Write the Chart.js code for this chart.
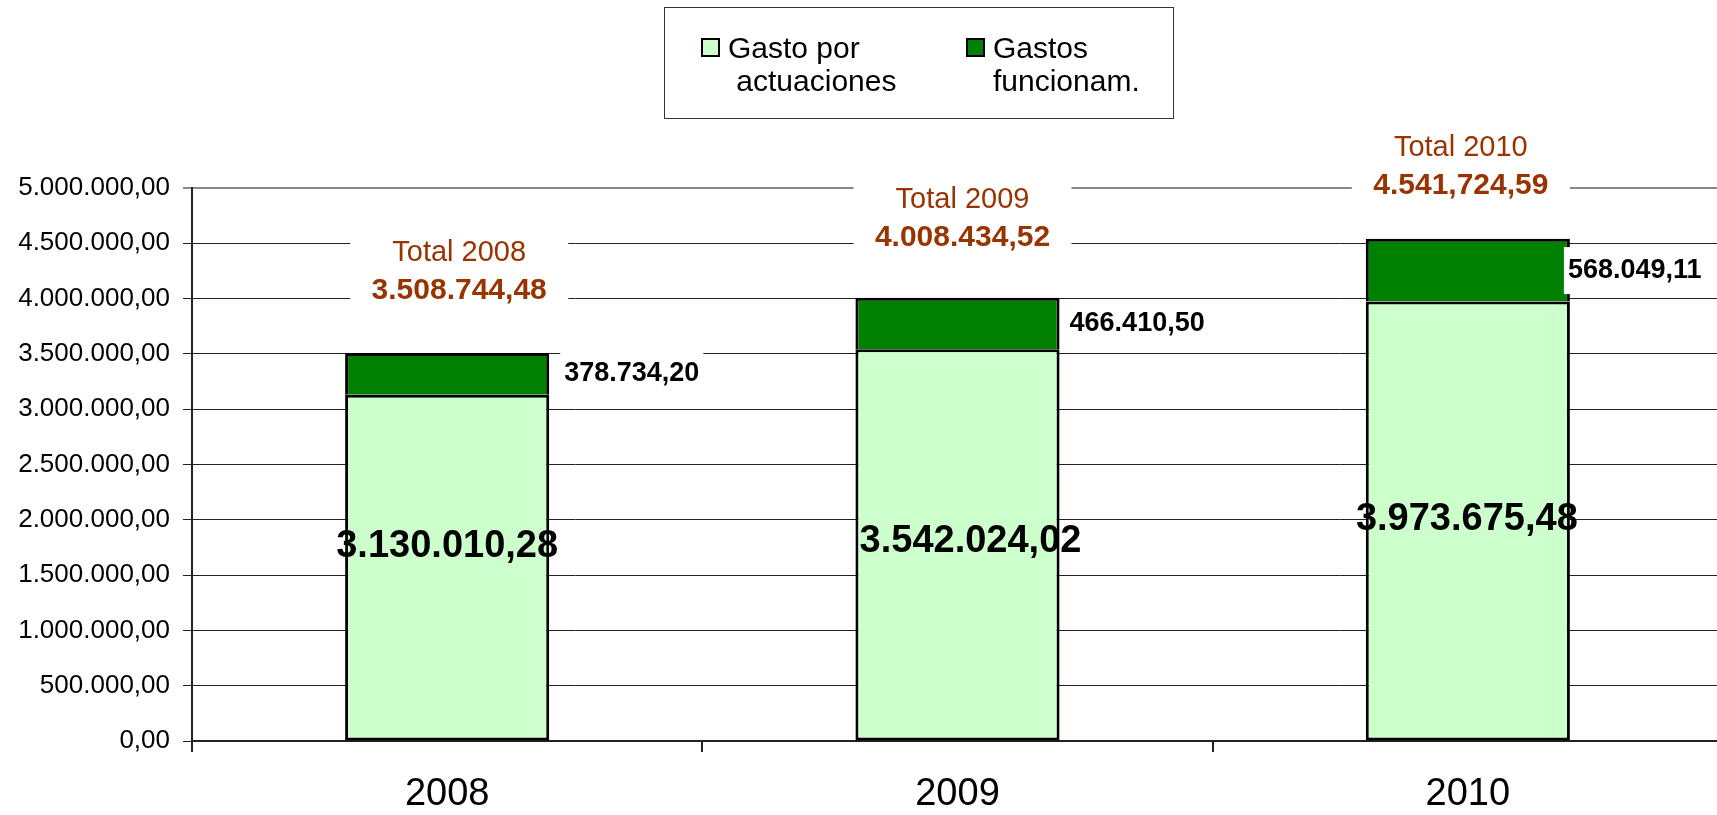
<!DOCTYPE html>
<html>
<head>
<meta charset="utf-8">
<title>Gastos 2008-2010</title>
<script src="https://cdn.jsdelivr.net/npm/chart.js@4/dist/chart.umd.min.js"></script>
<style>
  html, body { margin: 0; padding: 0; background: #fff; overflow: hidden; }
  #caja { width: 1717px; height: 815px; overflow: hidden; }
</style>
</head>
<body>
<div id="caja"><canvas id="grafico" width="1723" height="815"></canvas></div>
<script>
/* Datos del grafico */
var anios = ['2008', '2009', '2010'];
var gastoActuaciones = [3130010.28, 3542024.02, 3973675.48];
var gastosFuncionam = [378734.20, 466410.50, 568049.11];
var totalesTexto = ['3.508.744,48', '4.008.434,52', '4.541,724,59'];
var seriesNombres = [['Gasto por', ' actuaciones'], ['Gastos', 'funcionam.']];
var ejeYMax = 5000000;
var ejeYPaso = 500000;

var fuente = '"Liberation Sans", Arial, sans-serif';
Chart.defaults.font.family = fuente;

/* 3130010.28 -> "3.130.010,28" */
function formatoES(v) {
  var partes = v.toFixed(2).split('.');
  var entero = partes[0].replace(/\B(?=(\d{3})+(?!\d))/g, '.');
  return entero + ',' + partes[1];
}

/* Etiquetas de valores y totales */
var etiquetasPlugin = {
  id: 'etiquetas',
  afterDatasetsDraw(chart, args, opts) {
    var c = chart.ctx;
    var metaA = chart.getDatasetMeta(0);
    var metaF = chart.getDatasetMeta(1);
    c.save();
    c.textBaseline = 'middle';
    for (var i = 0; i < anios.length; i++) {
      var barA = metaA.data[i];
      var barF = metaF.data[i];

      // valor grande dentro del verde claro
      c.font = 'bold 38px ' + fuente;
      c.fillStyle = '#000';
      c.textAlign = 'center';
      c.fillText(formatoES(gastoActuaciones[i]),
        barA.x + opts.grandeDx[i], (barA.y + barA.base) / 2 + opts.grandeDy[i]);

      // valor del tramo verde oscuro, a la derecha de la barra
      c.font = 'bold 27px ' + fuente;
      var txt = formatoES(gastosFuncionam[i]);
      var w = c.measureText(txt).width;
      var x0 = barF.x + barF.width / 2 + opts.tramoDx[i];
      var yF = (barF.y + barF.base) / 2;
      c.fillStyle = '#fff';
      c.fillRect(x0 - 4, yF - 23, w + 8, 47);
      c.fillStyle = '#000';
      c.textAlign = 'left';
      c.fillText(txt, x0, yF);

      // total encima de la barra
      var xT = barF.x + opts.totalDx[i];
      var yV = barF.y + opts.totalDy[i];
      var yT = yV - 38;
      c.fillStyle = '#fff';
      c.fillRect(xT - 109, yT - 22, 218, yV - yT + 44);
      c.fillStyle = '#993300';
      c.textAlign = 'center';
      c.font = '29px ' + fuente;
      c.fillText('Total ' + anios[i], xT, yT);
      c.font = 'bold 30px ' + fuente;
      c.fillText(totalesTexto[i], xT, yV);
    }
    c.restore();
  }
};

/* Leyenda con recuadro */
var leyendaPlugin = {
  id: 'leyenda',
  afterDraw(chart, args, opts) {
    var c = chart.ctx;
    c.save();
    c.fillStyle = '#fff';
    c.fillRect(664.5, 7.5, 509, 111);
    c.strokeStyle = '#333';
    c.lineWidth = 1;
    c.strokeRect(664.5, 7.5, 509, 111);
    c.font = '30px ' + fuente;
    c.textAlign = 'left';
    c.textBaseline = 'alphabetic';
    chart.data.datasets.forEach(function(ds, i) {
      var x = opts.itemX[i];
      c.fillStyle = ds.backgroundColor;
      c.fillRect(x, 38, 19, 19);
      c.strokeStyle = '#000';
      c.lineWidth = 2;
      c.strokeRect(x + 1, 39, 17, 17);
      c.fillStyle = '#000';
      seriesNombres[i].forEach(function(linea, j) {
        c.fillText(linea, x + 27, 58 + j * 32.5);
      });
    });
    c.restore();
  }
};

var ctx = document.getElementById('grafico').getContext('2d');
var grafico = new Chart(ctx, {
  type: 'bar',
  data: {
    labels: anios,
    datasets: [
      {
        label: seriesNombres[0].join(' '),
        data: gastoActuaciones,
        backgroundColor: '#CCFFCC',
        borderColor: '#000',
        borderWidth: { top: 3, right: 3, bottom: 3, left: 3 },
        borderSkipped: false,
        barPercentage: 0.8,
        categoryPercentage: 0.5
      },
      {
        label: seriesNombres[1].join(' '),
        data: gastosFuncionam,
        backgroundColor: '#008000',
        borderColor: '#000',
        borderWidth: { top: 3, right: 3, bottom: 0, left: 3 },
        borderSkipped: false,
        barPercentage: 0.8,
        categoryPercentage: 0.5
      }
    ]
  },
  options: {
    responsive: false,
    animation: false,
    layout: { padding: { top: 188, right: 0, bottom: 0, left: 0 } },
    plugins: {
      legend: { display: false },
      tooltip: { enabled: false },
      etiquetas: {
        grandeDx: [0, 13, -1],
        grandeDy: [-21, -3, -1],
        tramoDx: [15, 10, -2],
        totalDx: [12, 5, -7],
        totalDy: [-62, -60, -53]
      },
      leyenda: { itemX: [701, 966] }
    },
    scales: {
      x: {
        stacked: true,
        grid: { display: true, drawOnChartArea: false, offset: true, tickLength: 11, color: '#222', lineWidth: 2 },
        border: { color: '#222', width: 2 },
        ticks: { color: '#000', font: { size: 38 }, padding: 20 },
        afterFit: function(s) { s.height = 74; }
      },
      y: {
        stacked: true,
        min: 0,
        max: ejeYMax,
        grid: {
          tickLength: 9,
          color: function(c) { return c.tick && c.tick.value === ejeYMax ? '#888' : '#222'; },
          lineWidth: function(c) { return c.tick && c.tick.value === ejeYMax ? 2 : 1; }
        },
        border: { color: '#222', width: 2 },
        ticks: {
          stepSize: ejeYPaso,
          color: '#000',
          font: { size: 26 },
          padding: 13,
          callback: function(v) { return formatoES(v); }
        },
        afterFit: function(s) { s.width = 192; }
      }
    }
  },
  plugins: [etiquetasPlugin, leyendaPlugin]
});
</script>
</body>
</html>
